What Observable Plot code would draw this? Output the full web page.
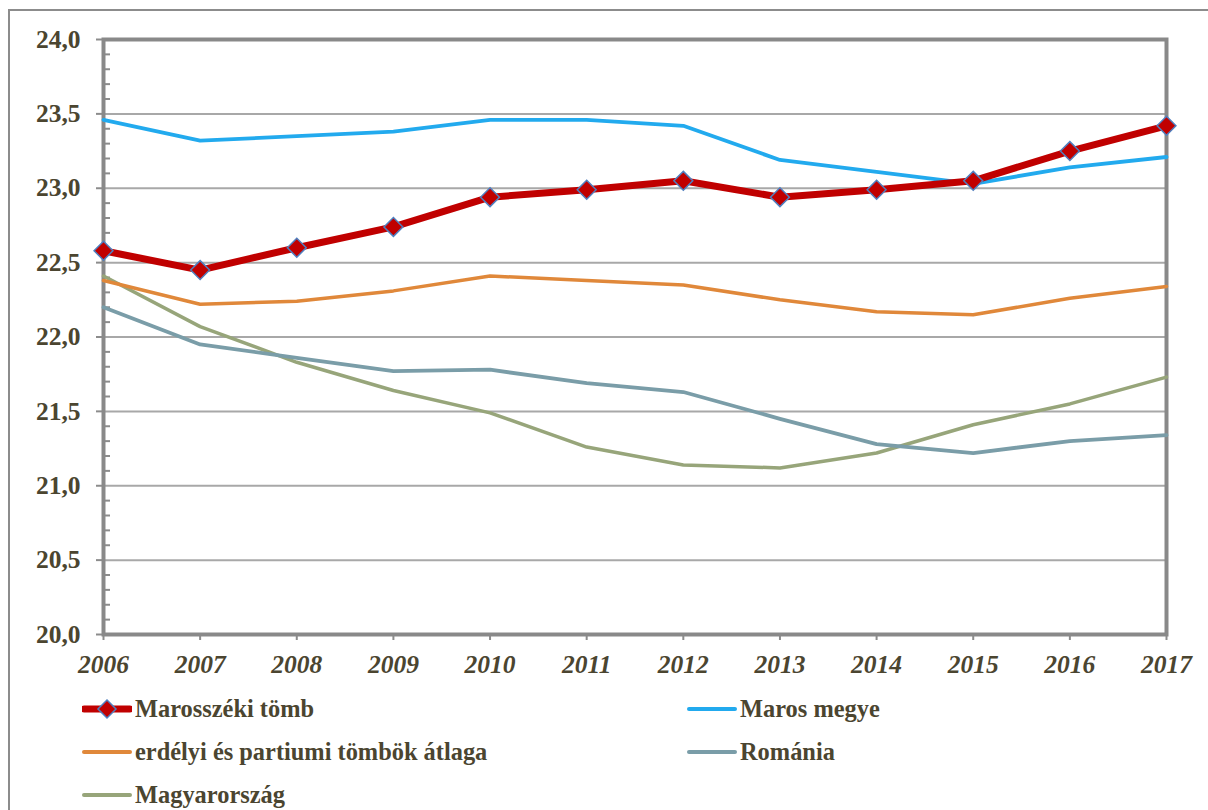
<!DOCTYPE html>
<html><head><meta charset="utf-8">
<script src="https://cdn.jsdelivr.net/npm/d3@7"></script>
<script src="https://cdn.jsdelivr.net/npm/@observablehq/plot@0.6"></script>
<style>
body{margin:0;background:#fff;}
#wrap{position:relative;width:1208px;height:810px;overflow:hidden;font-family:"Liberation Serif","Times New Roman",serif;}
#border{position:absolute;left:8px;top:9px;width:1400px;height:1000px;border-left:2px solid #8c8c8c;border-top:2px solid #8c8c8c;}
#chart{position:absolute;left:0;top:0;}
.leg{position:absolute;display:flex;align-items:center;font-weight:bold;font-size:24.4px;color:#4B4530;white-space:nowrap;}
.leg svg{margin-right:3px;}
</style></head>
<body><div id="wrap"><div id="border"></div><div id="chart"></div><div id="legend"></div></div>
<script>
const years = [2006,2007,2008,2009,2010,2011,2012,2013,2014,2015,2016,2017];
const marosszeki = [22.58,22.45,22.60,22.74,22.94,22.99,23.05,22.94,22.99,23.05,23.25,23.42];
const marosMegye = [23.46,23.32,23.35,23.38,23.46,23.46,23.42,23.19,23.11,23.03,23.14,23.21];
const erdelyi = [22.38,22.22,22.24,22.31,22.41,22.38,22.35,22.25,22.17,22.15,22.26,22.34];
const romania = [22.20,21.95,21.86,21.77,21.78,21.69,21.63,21.45,21.28,21.22,21.30,21.34];
const magyarorszag = [22.41,22.07,21.83,21.64,21.49,21.26,21.14,21.12,21.22,21.41,21.55,21.73];
const yTicks = [20,20.5,21,21.5,22,22.5,23,23.5,24];
const seriesNames = ["Marosszéki tömb","Maros megye","erdélyi és partiumi tömbök átlaga","Románia","Magyarország"];
const seriesColors = ["#C00000","#22AAEE","#E0883A","#7A9DA8","#97A57A"];

const seriesValues = [marosszeki, marosMegye, erdelyi, romania, magyarorszag];
const rows = seriesValues.map((vals,i)=>vals.map((v,j)=>({year:years[j], value:v, series:seriesNames[i]})));
const minorTicks = d3.range(200,241).map(d=>d/10).filter(d=>Math.round(d*10)%5!==0);
const fmt = d => d.toFixed(1).replace(".",",");
const textColor = "#4B4530";

function line(i, w){
  return Plot.line(rows[i], {x:"year", y:"value", stroke:seriesColors[i], strokeWidth:w, strokeLinejoin:"round", strokeLinecap:"round"});
}

const chart = Plot.plot({
  width:1208, height:690,
  marginLeft:103, marginRight:42, marginTop:39, marginBottom:56,
  style:{fontFamily:"'Liberation Serif','Times New Roman',serif", background:"transparent", overflow:"visible"},
  x:{domain:[2006,2017]},
  y:{domain:[20,24]},
  marks:[
    Plot.gridY(yTicks.slice(1,-1), {stroke:"#A8A8A8", strokeOpacity:1, strokeWidth:2}),
    Plot.axisY(minorTicks, {tickSize:-7, tickFormat:()=>"", label:null, stroke:"#8c8c8c", strokeWidth:2}),
    Plot.axisY(yTicks, {tickSize:7, tickPadding:16, tickFormat:fmt, label:null, fontSize:25.5, fontWeight:"bold", fill:textColor, stroke:"#8c8c8c", strokeWidth:2}),
    Plot.axisX(years, {tickSize:6, tickPadding:14, tickFormat:d=>String(d), label:null, fontSize:25.5, fontWeight:"bold", fontStyle:"italic", fill:textColor, stroke:"#8c8c8c", strokeWidth:2}),
    Plot.frame({stroke:"#898989", strokeWidth:4}),
    line(4,3.5), line(3,3.8), line(2,3.5), line(1,3.8), line(0,7),
    Plot.dot(rows[0], {x:"year", y:"value", symbol:"diamond2", r:8.5, fill:"#C00000", stroke:"#4F7FBF", strokeWidth:1.5})
  ]
});
document.getElementById("chart").appendChild(chart);

// legend
const legPos = [[82,709],[687,709],[82,752],[687,752],[82,795]];
const legend = document.getElementById("legend");
seriesNames.forEach((name,i)=>{
  const div = document.createElement("div");
  div.className = "leg";
  div.style.left = legPos[i][0]+"px";
  div.style.top = (legPos[i][1]-16)+"px";
  const w = i===0?7:4;
  let svg = `<svg width="50" height="32"><line x1="2" y1="16" x2="48" y2="16" stroke="${seriesColors[i]}" stroke-width="${w}" stroke-linecap="round"/>`;
  if(i===0) svg += `<path d="M25,7L34,16L25,25L16,16Z" fill="#C00000" stroke="#4F7FBF" stroke-width="1.5"/>`;
  svg += `</svg>`;
  div.innerHTML = svg + `<span>${name}</span>`;
  legend.appendChild(div);
});
</script></body></html>
